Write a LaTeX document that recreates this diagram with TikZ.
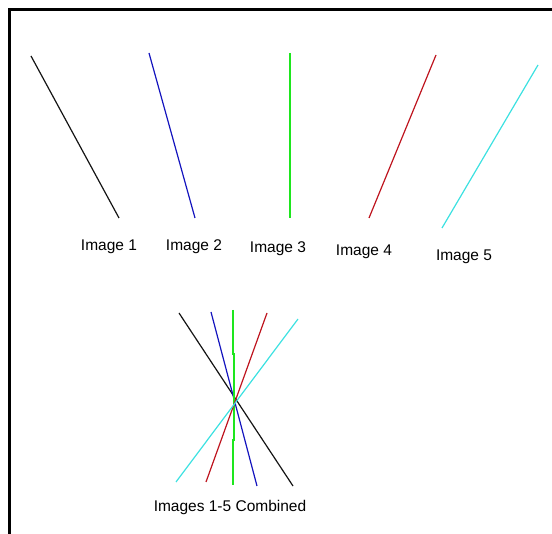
\documentclass[tikz,border=0pt]{standalone}
\usepackage{fontspec}
\setmainfont{Liberation Sans}
\definecolor{lblack}{RGB}{20,20,20}
\definecolor{lblue}{RGB}{20,20,190}
\definecolor{lgreen}{RGB}{30,230,30}
\definecolor{lred}{RGB}{190,20,30}
\definecolor{lcyan}{RGB}{60,225,225}
\begin{document}
\begin{tikzpicture}[x=1pt,y=-1pt,
  seg/.style={line width=1.2pt},
  gseg/.style={line width=1.8pt,color=lgreen},
  lbl/.style={font=\fontsize{15.5}{17}\selectfont,inner sep=0pt},
  frame/.style={line width=3pt,color=black}]
\useasboundingbox (0,0) rectangle (552,534);
% frame
\coordinate (f1) at (9.5,534);
\coordinate (f2) at (9.5,9.5);
\coordinate (f3) at (552,9.5);
\draw[frame] (f1) -- (f2) -- (f3);
% individual lines
\coordinate (a1) at (31,56);   \coordinate (a2) at (119,218);
\coordinate (b1) at (149,53);  \coordinate (b2) at (195,218);
\coordinate (c1) at (290,53);  \coordinate (c2) at (290,218);
\coordinate (d1) at (436,55);  \coordinate (d2) at (369,218);
\coordinate (e1) at (538,65);  \coordinate (e2) at (442,228);
\draw[seg,lblack] (a1) -- (a2);
\draw[seg,lblue] (b1) -- (b2);
\draw[gseg] (c1) -- (c2);
\draw[seg,lred] (d1) -- (d2);
\draw[seg,lcyan] (e1) -- (e2);
\node[lbl] (t1) at (109,247) {Image 1};
\node[lbl] (t2) at (194,247) {Image 2};
\node[lbl] (t3) at (278,249) {Image 3};
\node[lbl] (t4) at (364,252) {Image 4};
\node[lbl] (t5) at (464,257) {Image 5};
% combined
\coordinate (ca1) at (179,313); \coordinate (ca2) at (293,486);
\coordinate (cb1) at (211,312); \coordinate (cb2) at (257,486);
\coordinate (cc1) at (233,310); \coordinate (cc2) at (233,354);
\coordinate (cc3) at (234.2,354); \coordinate (cc4) at (234.2,440);
\coordinate (cc5) at (233,440); \coordinate (cc6) at (233,485);
\coordinate (cd1) at (267,313); \coordinate (cd2) at (206,482);
\coordinate (ce1) at (298,319); \coordinate (ce2) at (176,482);
\draw[seg,lblack] (ca1) -- (ca2);
\draw[seg,lblue] (cb1) -- (cb2);
\draw[gseg] (cc1) -- (cc2) -- (cc3) -- (cc4) -- (cc5) -- (cc6);
\draw[seg,lred] (cd1) -- (cd2);
\draw[seg,lcyan] (ce1) -- (ce2);
\node[lbl] (tc) at (230,507) {Images 1-5 Combined};
\end{tikzpicture}
\end{document}
